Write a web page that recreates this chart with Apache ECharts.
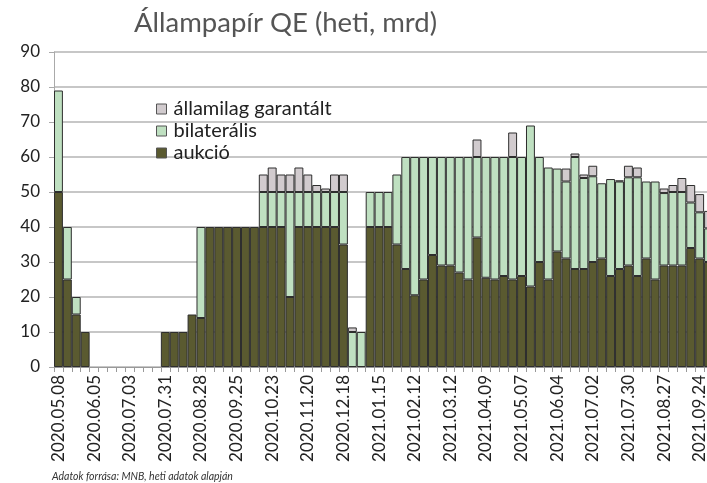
<!DOCTYPE html>
<html>
<head>
<meta charset="utf-8">
<script src="https://cdn.jsdelivr.net/npm/echarts@6/dist/echarts.min.js"></script>
<style>
  html, body { margin: 0; padding: 0; background: #fff; }
  #chart { width: 707px; height: 483px; }
</style>
</head>
<body>
<div id="chart"></div>
<script>
// weekly dates (every 4th is labelled)
var weeks = [
  '2020.05.08','2020.05.15','2020.05.22','2020.05.29','2020.06.05','2020.06.12','2020.06.19','2020.06.26',
  '2020.07.03','2020.07.10','2020.07.17','2020.07.24','2020.07.31','2020.08.07','2020.08.14','2020.08.21',
  '2020.08.28','2020.09.04','2020.09.11','2020.09.18','2020.09.25','2020.10.02','2020.10.09','2020.10.16',
  '2020.10.23','2020.10.30','2020.11.06','2020.11.13','2020.11.20','2020.11.27','2020.12.04','2020.12.11',
  '2020.12.18','2020.12.25','2021.01.01','2021.01.08','2021.01.15','2021.01.22','2021.01.29','2021.02.05',
  '2021.02.12','2021.02.19','2021.02.26','2021.03.05','2021.03.12','2021.03.19','2021.03.26','2021.04.02',
  '2021.04.09','2021.04.16','2021.04.23','2021.04.30','2021.05.07','2021.05.14','2021.05.21','2021.05.28',
  '2021.06.04','2021.06.11','2021.06.18','2021.06.25','2021.07.02','2021.07.09','2021.07.16','2021.07.23',
  '2021.07.30','2021.08.06','2021.08.13','2021.08.20','2021.08.27','2021.09.03','2021.09.10','2021.09.17',
  '2021.09.24','2021.10.01'
];

var aukcio = [
  50, 25, 15, 10, 0, 0, 0, 0,
  0, 0, 0, 0, 10, 10, 10, 15,
  14, 40, 40, 40, 40, 40, 40, 40,
  40, 40, 20, 40, 40, 40, 40, 40,
  35, 0, 0, 40, 40, 40, 35, 28,
  20.5, 25, 32, 29, 29, 27, 25, 37,
  25.5, 25, 26, 25, 26, 23, 30, 25,
  33, 31, 28, 28, 30, 31, 26, 28,
  29, 26, 31, 25, 29, 29, 29, 34,
  31, 30
];

var bilateralis = [
  29, 15, 5, 0, 0, 0, 0, 0,
  0, 0, 0, 0, 0, 0, 0, 0,
  26, 0, 0, 0, 0, 0, 0, 10,
  10, 10, 30, 10, 10, 10, 10, 10,
  15, 10, 10, 10, 10, 10, 20, 32,
  39.5, 35, 28, 31, 31, 33, 35, 23,
  34.5, 35, 34, 35, 34, 46, 30, 32,
  23.7, 22, 32, 26, 24.5, 21.5, 27.7, 25,
  25.2, 28.2, 22, 28, 20.7, 21, 21, 13,
  13.2, 9.6
];

var garantalt = [
  0, 0, 0, 0, 0, 0, 0, 0,
  0, 0, 0, 0, 0, 0, 0, 0,
  0, 0, 0, 0, 0, 0, 0, 5,
  7, 5, 5, 7, 5, 2, 1, 5,
  5, 1.3, 0, 0, 0, 0, 0, 0,
  0, 0, 0, 0, 0, 0, 0, 5,
  0, 0, 0, 7, 0, 0, 0, 0,
  0, 3.7, 1, 1, 3, 0, 0, 0.3,
  3.3, 2.8, 0, 0, 1.3, 2, 4, 5,
  5.2, 5
];

var yTicks = { min: 0, max: 90, step: 10 };

var FONT = 'Lato';
var border = '#2e2e2e';

// empty weeks are left out rather than drawn as flat bars
function noZero(arr) {
  return arr.map(function (v) { return v === 0 ? '-' : v; });
}

function barSeries(name, data, color) {
  return {
    name: name,
    type: 'bar',
    stack: 'qe',
    barCategoryGap: '0%',
    data: noZero(data),
    itemStyle: {
      color: color,
      borderColor: border,
      borderWidth: 1
    }
  };
}

var option = {
  animation: false,
  textStyle: { fontFamily: FONT },
  title: {
    text: 'Állampapír QE (heti, mrd)',
    left: 129,
    top: 4,
    textStyle: { fontFamily: FONT, fontSize: 27.5, fontWeight: 'normal', color: '#555' }
  },
  legend: {
    orient: 'vertical',
    left: 156,
    top: 98,
    padding: 0,
    icon: 'rect',
    itemWidth: 10,
    itemHeight: 10,
    itemGap: 0,
    data: ['államilag garantált', 'bilaterális', 'aukció'],
    itemStyle: { borderColor: '#555', borderWidth: 1 },
    textStyle: { fontFamily: FONT, fontSize: 20, lineHeight: 22, color: '#222', padding: [0, 0, 0, 2] }
  },
  grid: {
    left: 54,
    right: -6,
    top: 52,
    bottom: 116,
    outerBoundsMode: 'none'
  },
  xAxis: {
    type: 'category',
    data: weeks,
    axisLine: { lineStyle: { color: '#999', width: 1 } },
    axisTick: { show: true, interval: 0, length: 5, lineStyle: { color: '#999' } },
    axisLabel: {
      interval: 3,
      rotate: 90,
      margin: 8,
      fontFamily: FONT,
      fontSize: 17,
      color: '#222'
    }
  },
  yAxis: {
    type: 'value',
    min: yTicks.min,
    max: yTicks.max,
    interval: yTicks.step,
    axisLine: { show: true, lineStyle: { color: '#aaa' } },
    axisTick: { show: true, length: 5, lineStyle: { color: '#aaa' } },
    axisLabel: { margin: 14, fontFamily: FONT, fontSize: 17, color: '#222' },
    splitLine: { lineStyle: { color: '#b5b5b5', width: 1.5 } }
  },
  graphic: [{
    type: 'text',
    left: 52,
    top: 471,
    style: {
      text: 'Adatok forrása: MNB, heti adatok alapján',
      font: 'italic 10.5px ' + FONT,
      fill: '#333'
    }
  }],
  series: [
    barSeries('aukció', aukcio, '#5a5a30'),
    barSeries('bilaterális', bilateralis, '#bfe0c1'),
    barSeries('államilag garantált', garantalt, '#d1cbce')
  ]
};

var myChart = echarts.init(document.getElementById('chart'));
myChart.setOption(option);
</script>
</body>
</html>
